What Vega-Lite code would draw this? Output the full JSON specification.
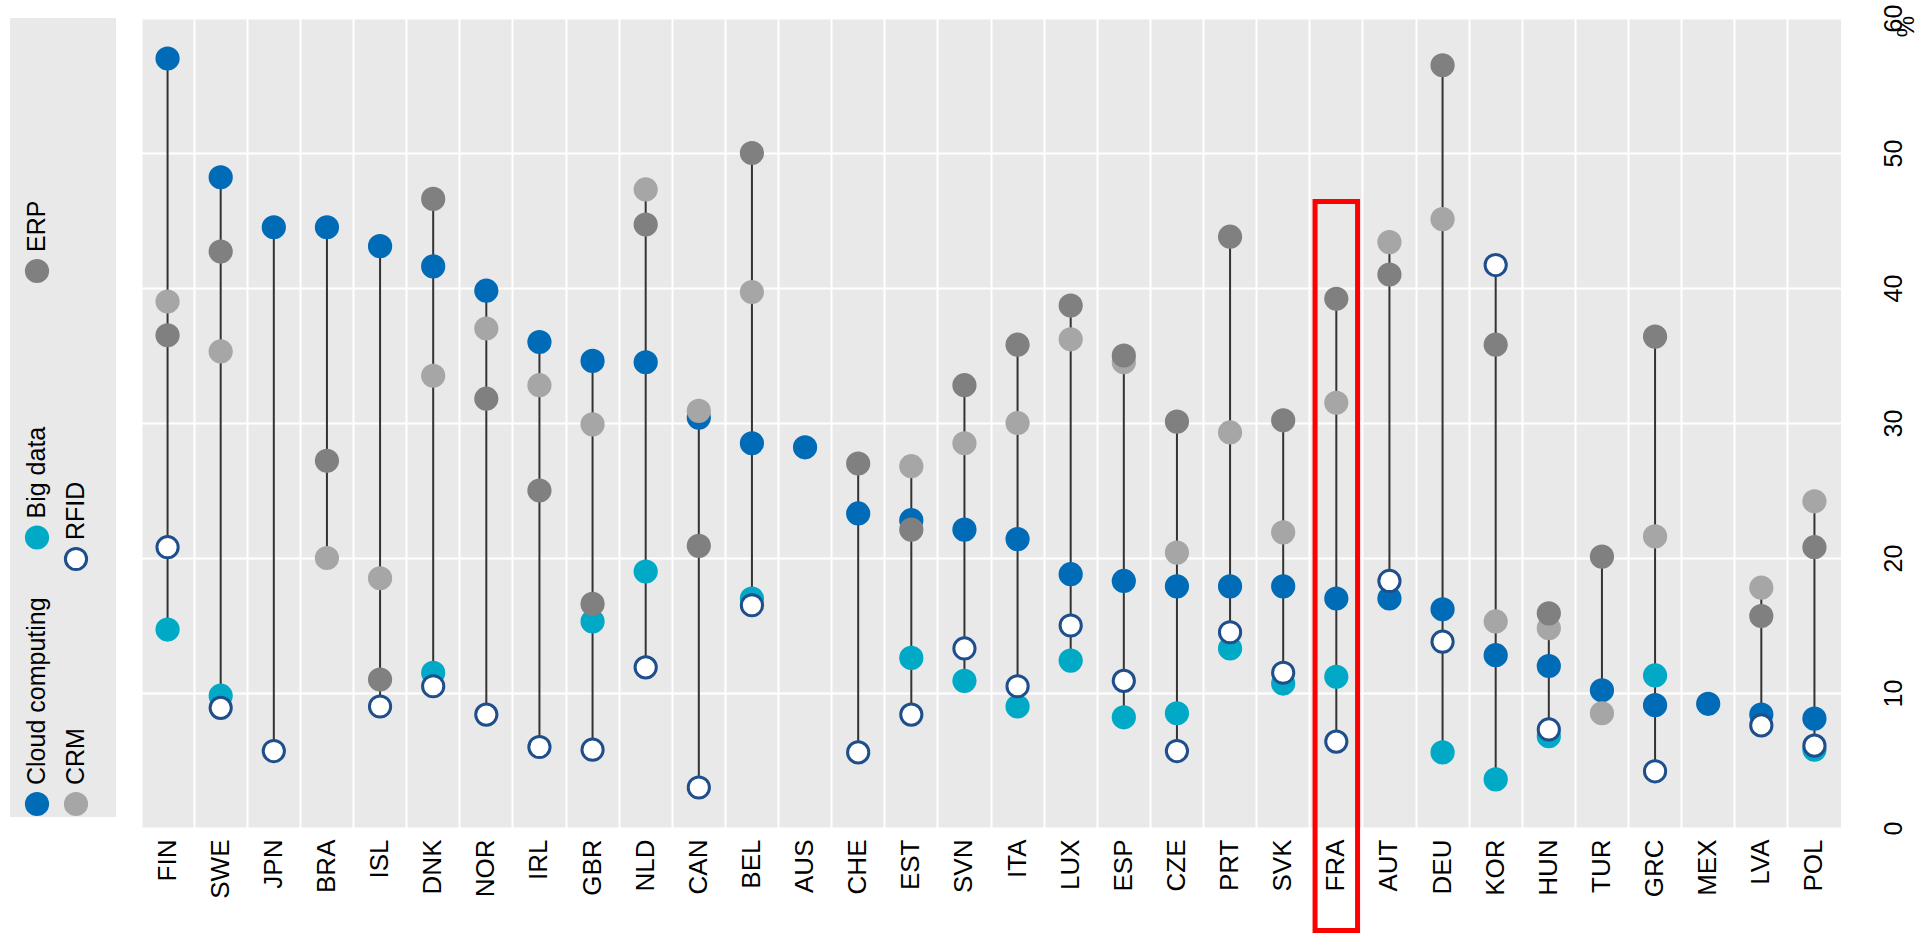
{
  "$schema": "https://vega.github.io/schema/vega-lite/v6.json",
  "background": "white",
  "padding": {"left": 10, "top": 4, "right": 0, "bottom": 0},
  "config": {
    "font": "Liberation Sans",
    "view": {"stroke": null},
    "concat": {"spacing": 25}
  },
  "datasets": {
    "main": [
      {"country": "FIN", "series": "Big data", "value": 14.7},
      {"country": "SWE", "series": "Big data", "value": 9.8},
      {"country": "DNK", "series": "Big data", "value": 11.5},
      {"country": "GBR", "series": "Big data", "value": 15.3},
      {"country": "NLD", "series": "Big data", "value": 19.0},
      {"country": "BEL", "series": "Big data", "value": 17.0},
      {"country": "EST", "series": "Big data", "value": 12.6},
      {"country": "SVN", "series": "Big data", "value": 10.9},
      {"country": "ITA", "series": "Big data", "value": 9.0},
      {"country": "LUX", "series": "Big data", "value": 12.4},
      {"country": "ESP", "series": "Big data", "value": 8.2},
      {"country": "CZE", "series": "Big data", "value": 8.5},
      {"country": "PRT", "series": "Big data", "value": 13.3},
      {"country": "SVK", "series": "Big data", "value": 10.7},
      {"country": "FRA", "series": "Big data", "value": 11.2},
      {"country": "DEU", "series": "Big data", "value": 5.6},
      {"country": "KOR", "series": "Big data", "value": 3.6},
      {"country": "HUN", "series": "Big data", "value": 6.8},
      {"country": "GRC", "series": "Big data", "value": 11.3},
      {"country": "POL", "series": "Big data", "value": 5.8},
      {"country": "FIN", "series": "Cloud computing", "value": 57.0},
      {"country": "SWE", "series": "Cloud computing", "value": 48.2},
      {"country": "JPN", "series": "Cloud computing", "value": 44.5},
      {"country": "BRA", "series": "Cloud computing", "value": 44.5},
      {"country": "ISL", "series": "Cloud computing", "value": 43.1},
      {"country": "DNK", "series": "Cloud computing", "value": 41.6},
      {"country": "NOR", "series": "Cloud computing", "value": 39.8},
      {"country": "IRL", "series": "Cloud computing", "value": 36.0},
      {"country": "GBR", "series": "Cloud computing", "value": 34.6},
      {"country": "NLD", "series": "Cloud computing", "value": 34.5},
      {"country": "CAN", "series": "Cloud computing", "value": 30.4},
      {"country": "BEL", "series": "Cloud computing", "value": 28.5},
      {"country": "AUS", "series": "Cloud computing", "value": 28.2},
      {"country": "CHE", "series": "Cloud computing", "value": 23.3},
      {"country": "EST", "series": "Cloud computing", "value": 22.8},
      {"country": "SVN", "series": "Cloud computing", "value": 22.1},
      {"country": "ITA", "series": "Cloud computing", "value": 21.4},
      {"country": "LUX", "series": "Cloud computing", "value": 18.8},
      {"country": "ESP", "series": "Cloud computing", "value": 18.3},
      {"country": "CZE", "series": "Cloud computing", "value": 17.9},
      {"country": "PRT", "series": "Cloud computing", "value": 17.9},
      {"country": "SVK", "series": "Cloud computing", "value": 17.9},
      {"country": "FRA", "series": "Cloud computing", "value": 17.0},
      {"country": "AUT", "series": "Cloud computing", "value": 17.0},
      {"country": "DEU", "series": "Cloud computing", "value": 16.2},
      {"country": "KOR", "series": "Cloud computing", "value": 12.8},
      {"country": "HUN", "series": "Cloud computing", "value": 12.0},
      {"country": "TUR", "series": "Cloud computing", "value": 10.2},
      {"country": "GRC", "series": "Cloud computing", "value": 9.1},
      {"country": "MEX", "series": "Cloud computing", "value": 9.2},
      {"country": "LVA", "series": "Cloud computing", "value": 8.4},
      {"country": "POL", "series": "Cloud computing", "value": 8.1},
      {"country": "FIN", "series": "CRM", "value": 39.0},
      {"country": "SWE", "series": "CRM", "value": 35.3},
      {"country": "BRA", "series": "CRM", "value": 20.0},
      {"country": "ISL", "series": "CRM", "value": 18.5},
      {"country": "DNK", "series": "CRM", "value": 33.5},
      {"country": "NOR", "series": "CRM", "value": 37.0},
      {"country": "IRL", "series": "CRM", "value": 32.8},
      {"country": "GBR", "series": "CRM", "value": 29.9},
      {"country": "NLD", "series": "CRM", "value": 47.3},
      {"country": "CAN", "series": "CRM", "value": 30.9},
      {"country": "BEL", "series": "CRM", "value": 39.7},
      {"country": "EST", "series": "CRM", "value": 26.8},
      {"country": "SVN", "series": "CRM", "value": 28.5},
      {"country": "ITA", "series": "CRM", "value": 30.0},
      {"country": "LUX", "series": "CRM", "value": 36.2},
      {"country": "ESP", "series": "CRM", "value": 34.5},
      {"country": "CZE", "series": "CRM", "value": 20.4},
      {"country": "PRT", "series": "CRM", "value": 29.3},
      {"country": "SVK", "series": "CRM", "value": 21.9},
      {"country": "FRA", "series": "CRM", "value": 31.5},
      {"country": "AUT", "series": "CRM", "value": 43.4},
      {"country": "DEU", "series": "CRM", "value": 45.1},
      {"country": "KOR", "series": "CRM", "value": 15.3},
      {"country": "HUN", "series": "CRM", "value": 14.8},
      {"country": "TUR", "series": "CRM", "value": 8.5},
      {"country": "GRC", "series": "CRM", "value": 21.6},
      {"country": "LVA", "series": "CRM", "value": 17.8},
      {"country": "POL", "series": "CRM", "value": 24.2},
      {"country": "FIN", "series": "ERP", "value": 36.5},
      {"country": "SWE", "series": "ERP", "value": 42.7},
      {"country": "BRA", "series": "ERP", "value": 27.2},
      {"country": "ISL", "series": "ERP", "value": 11.0},
      {"country": "DNK", "series": "ERP", "value": 46.6},
      {"country": "NOR", "series": "ERP", "value": 31.8},
      {"country": "IRL", "series": "ERP", "value": 25.0},
      {"country": "GBR", "series": "ERP", "value": 16.6},
      {"country": "NLD", "series": "ERP", "value": 44.7},
      {"country": "CAN", "series": "ERP", "value": 20.9},
      {"country": "BEL", "series": "ERP", "value": 50.0},
      {"country": "CHE", "series": "ERP", "value": 27.0},
      {"country": "EST", "series": "ERP", "value": 22.1},
      {"country": "SVN", "series": "ERP", "value": 32.8},
      {"country": "ITA", "series": "ERP", "value": 35.8},
      {"country": "LUX", "series": "ERP", "value": 38.7},
      {"country": "ESP", "series": "ERP", "value": 35.0},
      {"country": "CZE", "series": "ERP", "value": 30.1},
      {"country": "PRT", "series": "ERP", "value": 43.8},
      {"country": "SVK", "series": "ERP", "value": 30.2},
      {"country": "FRA", "series": "ERP", "value": 39.2},
      {"country": "AUT", "series": "ERP", "value": 41.0},
      {"country": "DEU", "series": "ERP", "value": 56.5},
      {"country": "KOR", "series": "ERP", "value": 35.8},
      {"country": "HUN", "series": "ERP", "value": 15.9},
      {"country": "TUR", "series": "ERP", "value": 20.1},
      {"country": "GRC", "series": "ERP", "value": 36.4},
      {"country": "LVA", "series": "ERP", "value": 15.7},
      {"country": "POL", "series": "ERP", "value": 20.8},
      {"country": "FIN", "series": "RFID", "value": 20.8},
      {"country": "SWE", "series": "RFID", "value": 8.9},
      {"country": "JPN", "series": "RFID", "value": 5.7},
      {"country": "ISL", "series": "RFID", "value": 9.0},
      {"country": "DNK", "series": "RFID", "value": 10.5},
      {"country": "NOR", "series": "RFID", "value": 8.4},
      {"country": "IRL", "series": "RFID", "value": 6.0},
      {"country": "GBR", "series": "RFID", "value": 5.8},
      {"country": "NLD", "series": "RFID", "value": 11.9},
      {"country": "CAN", "series": "RFID", "value": 3.0},
      {"country": "BEL", "series": "RFID", "value": 16.5},
      {"country": "CHE", "series": "RFID", "value": 5.6},
      {"country": "EST", "series": "RFID", "value": 8.4},
      {"country": "SVN", "series": "RFID", "value": 13.3},
      {"country": "ITA", "series": "RFID", "value": 10.5},
      {"country": "LUX", "series": "RFID", "value": 15.0},
      {"country": "ESP", "series": "RFID", "value": 10.9},
      {"country": "CZE", "series": "RFID", "value": 5.7},
      {"country": "PRT", "series": "RFID", "value": 14.5},
      {"country": "SVK", "series": "RFID", "value": 11.5},
      {"country": "FRA", "series": "RFID", "value": 6.4},
      {"country": "AUT", "series": "RFID", "value": 18.3},
      {"country": "DEU", "series": "RFID", "value": 13.8},
      {"country": "KOR", "series": "RFID", "value": 41.7},
      {"country": "HUN", "series": "RFID", "value": 7.3},
      {"country": "GRC", "series": "RFID", "value": 4.2},
      {"country": "LVA", "series": "RFID", "value": 7.6},
      {"country": "POL", "series": "RFID", "value": 6.1}
    ],
    "legend": [
      {"series": "Cloud computing"},
      {"series": "Big data"},
      {"series": "ERP"},
      {"series": "CRM"},
      {"series": "RFID"}
    ],
    "highlight": [
      {"country": "FRA", "top": 46.4, "bottom": -7.6}
    ]
  },
  "hconcat": [
    {
      "spacing": 0,
      "bounds": "flush",
      "hconcat": [
        {
          "width": 54,
          "height": 799,
          "view": {"fill": "#E9E9E9", "stroke": null},
          "data": {"name": "legend"},
          "transform": [{"filter": {"field": "series", "oneOf": ["Cloud computing", "Big data", "ERP"]}}],
          "encoding": {
            "y": {"field": "series", "type": "nominal", "axis": null,
                  "scale": {"type": "point", "domain": ["ERP", "Big data", "Cloud computing"], "range": [253, 786], "padding": 0}}
          },
          "layer": [
            {
              "mark": {"type": "point", "filled": false, "size": 450, "strokeWidth": 3, "opacity": 1},
              "encoding": {
                "fill": {"field": "series", "type": "nominal", "legend": null,
                         "scale": {"domain": ["Big data", "Cloud computing", "CRM", "ERP", "RFID"], "range": ["#00A9C6", "#006BB6", "#A6A6A6", "#808080", "#FFFFFF"]}},
                "stroke": {"field": "series", "type": "nominal", "legend": null,
                           "scale": {"domain": ["Big data", "Cloud computing", "CRM", "ERP", "RFID"], "range": ["#00A9C6", "#006BB6", "#A6A6A6", "#808080", "#1F4E8C"]}}
              }
            },
            {
              "mark": {"type": "text", "angle": 270, "align": "left", "baseline": "middle", "dx": 19, "fontSize": 25, "color": "#000000"},
              "encoding": {"text": {"field": "series"}}
            }
          ]
        },
        {
          "width": 52,
          "height": 799,
          "view": {"fill": "#E9E9E9", "stroke": null},
          "data": {"name": "legend"},
          "transform": [{"filter": {"field": "series", "oneOf": ["CRM", "RFID"]}}],
          "encoding": {
            "y": {"field": "series", "type": "nominal", "axis": null,
                  "scale": {"type": "point", "domain": ["RFID", "CRM"], "range": [541, 786], "padding": 0}}
          },
          "layer": [
            {
              "mark": {"type": "point", "filled": false, "size": 450, "strokeWidth": 3, "opacity": 1, "xOffset": -14},
              "encoding": {
                "fill": {"field": "series", "type": "nominal", "legend": null,
                         "scale": {"domain": ["Big data", "Cloud computing", "CRM", "ERP", "RFID"], "range": ["#00A9C6", "#006BB6", "#A6A6A6", "#808080", "#FFFFFF"]}},
                "stroke": {"field": "series", "type": "nominal", "legend": null,
                           "scale": {"domain": ["Big data", "Cloud computing", "CRM", "ERP", "RFID"], "range": ["#00A9C6", "#006BB6", "#A6A6A6", "#808080", "#1F4E8C"]}}
              }
            },
            {
              "mark": {"type": "text", "angle": 270, "align": "left", "baseline": "middle", "dx": 19, "xOffset": -14, "fontSize": 25, "color": "#000000"},
              "encoding": {"text": {"field": "series"}}
            }
          ]
        }
      ]
    },
    {
      "width": 1700,
      "height": 810,
      "view": {"fill": "#E9E9E9", "stroke": null},
      "encoding": {
        "x": {"field": "country", "type": "nominal",
              "scale": {"domain": ["FIN","SWE","JPN","BRA","ISL","DNK","NOR","IRL","GBR","NLD","CAN","BEL","AUS","CHE","EST","SVN","ITA","LUX","ESP","CZE","PRT","SVK","FRA","AUT","DEU","KOR","HUN","TUR","GRC","MEX","LVA","POL"], "paddingInner": 0, "paddingOuter": 0},
              "axis": {"title": null, "orient": "bottom", "labelAngle": 270, "labelAlign": "right", "labelBaseline": "middle",
                       "labelPadding": 11, "labelFontSize": 26, "labelColor": "#000000", "ticks": false, "domain": false,
                       "grid": true, "bandPosition": 0, "gridColor": "#FFFFFF", "gridWidth": 2}}
      },
      "layer": [
        {
          "data": {"name": "main"},
          "mark": {"type": "rule", "color": "#333333", "strokeWidth": 2},
          "encoding": {
            "y": {"aggregate": "min", "field": "value", "type": "quantitative",
                  "scale": {"domain": [0, 60], "nice": false, "zero": true},
                  "axis": {"orient": "right", "values": [0, 10, 20, 30, 40, 50, 60], "grid": true, "gridColor": "#FFFFFF", "gridWidth": 2,
                           "domain": false, "ticks": false, "labelAngle": 270, "labelAlign": "center", "labelBaseline": "top",
                           "labelPadding": 40, "labelFontSize": 25, "labelColor": "#000000",
                           "title": "%", "titleAngle": 270, "titleFontSize": 24, "titleFontWeight": "normal", "titleColor": "#000000",
                           "titleX": 65, "titleY": 8, "titleAlign": "center", "titleBaseline": "middle"}},
            "y2": {"aggregate": "max", "field": "value"}
          }
        },
        {
          "data": {"name": "main"},
          "mark": {"type": "point", "filled": false, "size": 450, "strokeWidth": 3, "opacity": 1},
          "encoding": {
            "y": {"field": "value", "type": "quantitative"},
            "fill": {"field": "series", "type": "nominal", "legend": null,
                     "scale": {"domain": ["Big data", "Cloud computing", "CRM", "ERP", "RFID"], "range": ["#00A9C6", "#006BB6", "#A6A6A6", "#808080", "#FFFFFF"]}},
            "stroke": {"field": "series", "type": "nominal", "legend": null,
                       "scale": {"domain": ["Big data", "Cloud computing", "CRM", "ERP", "RFID"], "range": ["#00A9C6", "#006BB6", "#A6A6A6", "#808080", "#1F4E8C"]}}
          }
        },
        {
          "data": {"name": "highlight"},
          "mark": {"type": "rect", "fill": null, "fillOpacity": 0, "stroke": "#FF0000", "strokeWidth": 5, "width": {"band": 0.8}},
          "encoding": {
            "y": {"field": "top", "type": "quantitative"},
            "y2": {"field": "bottom"}
          }
        }
      ]
    }
  ]
}
